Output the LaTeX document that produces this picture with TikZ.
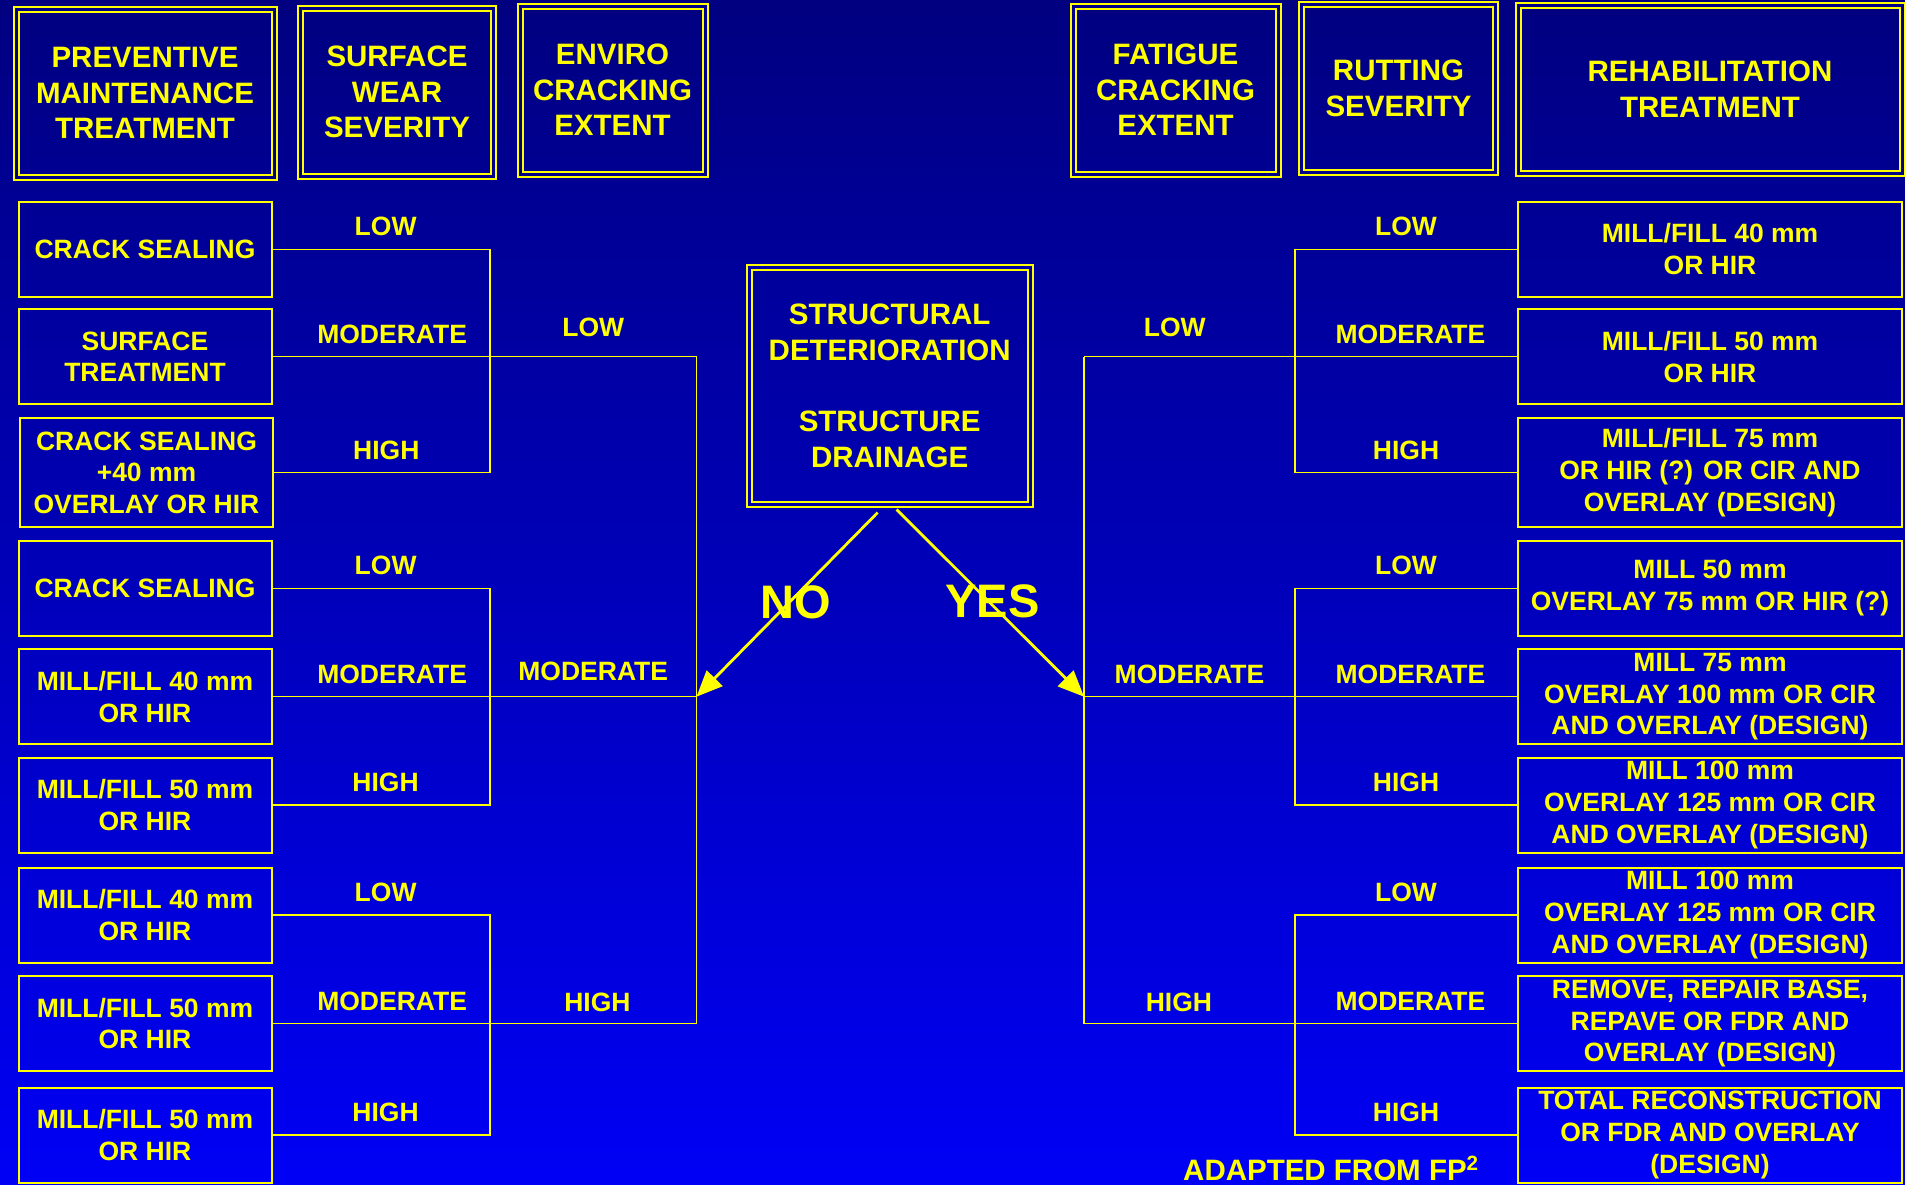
\documentclass[tikz,border=0pt]{standalone}
\usepackage{fontspec}
\setmainfont{Liberation Sans}
\usetikzlibrary{arrows.meta}

\definecolor{ylw}{RGB}{255,255,0}
\definecolor{navytop}{RGB}{0,0,128}
\definecolor{bluebot}{RGB}{0,0,245}
\definecolor{hdrgap}{RGB}{0,0,137}
\definecolor{midgap}{RGB}{0,0,166}

\begin{document}
\begin{tikzpicture}[x=1pt,y=-1pt]
\tikzset{every node/.style={text=ylw}}
\tikzset{treat/.style={draw=ylw, line width=2pt, align=center, inner sep=2pt, font=\bfseries\fontsize{26.5}{31.7}\selectfont}}
\tikzset{lbox/.style={treat, minimum width=253pt, minimum height=95pt}}
\tikzset{rbox/.style={treat, minimum width=384pt, minimum height=95pt}}
\tikzset{head/.style={draw=ylw, line width=2pt, double=hdrgap, double distance=3pt, align=center, inner sep=0pt, font=\bfseries\fontsize{29.5}{35.6}\selectfont}}
\tikzset{lbl/.style={inner sep=0pt, font=\bfseries\fontsize{26.5}{31.7}\selectfont}}
\tikzset{bigtxt/.style={inner sep=0pt, font=\bfseries\fontsize{47}{56}\selectfont}}
\tikzset{branch/.style={draw=ylw, line width=1.5pt}}
\tikzset{yarrow/.style={draw=ylw, line width=2.8pt, -{Triangle[length=26pt,width=22pt]}}}

\useasboundingbox (0,0) rectangle (1905,1184);
\fill[top color=navytop, bottom color=bluebot] (0,0) rectangle (1905,1184);

% column headings
\node[head, minimum width=258pt, minimum height=168pt] (pmt) at (145,93) {PREVENTIVE\\MAINTENANCE\\TREATMENT};
\node[head, minimum width=193pt, minimum height=168pt] (sws) at (397,92) {SURFACE\\WEAR\\SEVERITY};
\node[head, minimum width=185pt, minimum height=168pt] (ece) at (612.5,90) {ENVIRO\\CRACKING\\EXTENT};
\node[head, minimum width=205pt, minimum height=168pt] (fce) at (1175.5,90) {FATIGUE\\CRACKING\\EXTENT};
\node[head, minimum width=194pt, minimum height=168pt] (rsv) at (1398.5,88.5) {RUTTING\\SEVERITY};
\node[head, minimum width=384pt, minimum height=168pt] (rht) at (1710,89) {REHABILITATION\\TREATMENT};

% central question
\node[head, double=midgap, minimum width=281pt, minimum height=237pt] (sd) at (889.7,386) {STRUCTURAL\\DETERIORATION\\[35.6pt]STRUCTURE\\DRAINAGE};

% preventive maintenance treatments
\node[lbox] (L1) at (145,249.3) {CRACK SEALING};
\node[lbox] (L2) at (145,356.7) {SURFACE\\TREATMENT};
\node[lbox, minimum height=109pt] (L3) at (146.5,472.7) {CRACK SEALING\\+40 mm\\OVERLAY OR HIR};
\node[lbox] (L4) at (145,588.3) {CRACK SEALING};
\node[lbox] (L5) at (145,696.7) {MILL/FILL 40 mm\\OR HIR};
\node[lbox] (L6) at (145,805) {MILL/FILL 50 mm\\OR HIR};
\node[lbox] (L7) at (145,915) {MILL/FILL 40 mm\\OR HIR};
\node[lbox] (L8) at (145,1023.5) {MILL/FILL 50 mm\\OR HIR};
\node[lbox] (L9) at (145,1135) {MILL/FILL 50 mm\\OR HIR};

% rehabilitation treatments
\node[rbox] (R1) at (1710,249.3) {MILL/FILL 40 mm\\OR HIR};
\node[rbox] (R2) at (1710,356.7) {MILL/FILL 50 mm\\OR HIR};
\node[rbox, minimum height=109pt] (R3) at (1710,472.7) {MILL/FILL 75 mm\\OR HIR (?) OR CIR AND\\OVERLAY (DESIGN)};
\node[rbox] (R4) at (1710,588.3) {MILL 50 mm\\OVERLAY 75 mm OR HIR (?)};
\node[rbox] (R5) at (1710,696.7) {MILL 75 mm\\OVERLAY 100 mm OR CIR\\AND OVERLAY (DESIGN)};
\node[rbox] (R6) at (1710,805) {MILL 100 mm\\OVERLAY 125 mm OR CIR\\AND OVERLAY (DESIGN)};
\node[rbox] (R7) at (1710,915) {MILL 100 mm\\OVERLAY 125 mm OR CIR\\AND OVERLAY (DESIGN)};
\node[rbox] (R8) at (1710,1023.5) {REMOVE, REPAIR BASE,\\REPAVE OR FDR AND\\OVERLAY (DESIGN)};
\node[rbox] (R9) at (1710,1135) {TOTAL RECONSTRUCTION\\OR FDR AND OVERLAY\\(DESIGN)};

% tree columns
\coordinate (sevL) at (490,0);
\coordinate (envL) at (696.5,0);
\coordinate (fatR) at (1084,0);
\coordinate (rutR) at (1295,0);

\foreach \a/\b/\c in {1/2/3,4/5/6,7/8/9}{
  \draw[branch] (L\a.east) -| (sevL |- L\c.east) -- (L\c.east);
  \draw[branch] (L\b.east) -- (envL |- L\b.east);
  \draw[branch] (R\a.west) -| (rutR |- R\c.west) -- (R\c.west);
  \draw[branch] (R\b.west) -- (fatR |- R\b.west);
  \path (L\a.east) -- (sevL |- L\a.east) node[lbl, pos=0.52, above=13pt] {LOW};
  \path (L\b.east) -- (sevL |- L\b.east) node[lbl, pos=0.55, above=13pt] {MODERATE};
  \path (L\c.east) -- (sevL |- L\c.east) node[lbl, pos=0.52, above=13pt] {HIGH};
  \path (rutR |- R\a.west) -- (R\a.west) node[lbl, midway, above=13pt] {LOW};
  \path (rutR |- R\b.west) -- (R\b.west) node[lbl, pos=0.52, above=13pt] {MODERATE};
  \path (rutR |- R\c.west) -- (R\c.west) node[lbl, midway, above=13pt] {HIGH};
}

\draw[branch] (envL |- L2.east) -- (envL |- L8.east);
\draw[branch] (fatR |- R2.west) -- (fatR |- R8.west);

\path (sevL |- L2.east) -- (envL |- L2.east) node[lbl, midway, above=20pt] {LOW};
\path (sevL |- L5.east) -- (envL |- L5.east) node[lbl, midway, above=16pt] {MODERATE};
\path (sevL |- L8.east) -- (envL |- L8.east) node[lbl, pos=0.52, above=12pt] {HIGH};
\path (fatR |- R2.west) -- (rutR |- R2.west) node[lbl, pos=0.43, above=20pt] {LOW};
\path (fatR |- R5.west) -- (rutR |- R5.west) node[lbl, midway, above=13pt] {MODERATE};
\path (fatR |- R8.west) -- (rutR |- R8.west) node[lbl, pos=0.45, above=12pt] {HIGH};

% yes / no
\draw[yarrow] ([xshift=-12pt,yshift=-7pt]sd.south) -- (envL |- L5.east);
\draw[yarrow] ([xshift=7pt,yshift=-4pt]sd.south) -- (fatR |- R5.west);
\node[bigtxt, anchor=base] (no) at (795.5,618) {NO};
\node[bigtxt, anchor=base] (yes) at (992.5,617) {YES};

\node[lbl, font=\bfseries\fontsize{29.5}{35.6}\selectfont, anchor=base west] (src) at (1183,1180) {ADAPTED FROM FP\textsuperscript{2}};
\end{tikzpicture}
\end{document}
